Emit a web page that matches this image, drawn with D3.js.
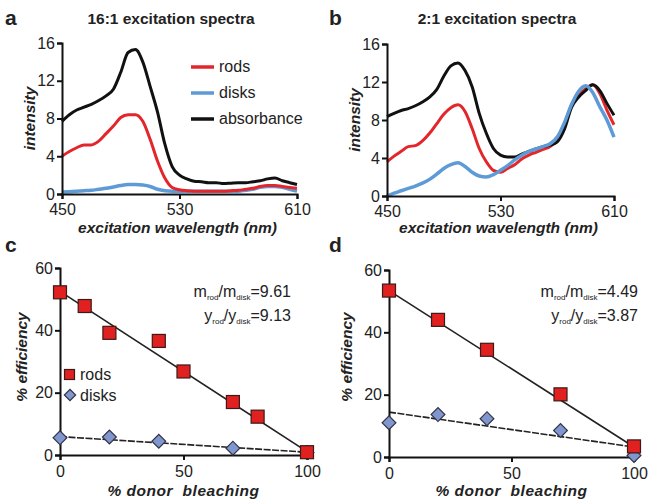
<!DOCTYPE html>
<html>
<head>
<meta charset="utf-8">
<script src="https://cdn.jsdelivr.net/npm/d3@7"></script>
<style>
  body { margin: 0; background: #fff; }
  svg { font-family: "Liberation Sans", Arial, sans-serif; }
  .tick text { font-size: 16px; fill: #222; }
  .ttl { font-weight: bold; font-style: italic; font-size: 15.5px; fill: #222; }
</style>
</head>
<body>
<div id="chart"></div>
<script>
// wavelengths (nm) shared by all spectra
var wavelengths = [450,455,460,465,470,475,480,485,490,495,500,505,510,515,520,525,530,
                   535,540,545,550,555,560,565,570,575,580,585,590,595,600,605,610];

// panel a: 16:1 excitation spectra
var rodsA = [4.0,4.5,4.9,5.2,5.2,5.6,6.4,7.2,8.1,8.4,8.4,7.7,5.8,3.5,1.7,0.7,0.45,
             0.35,0.3,0.3,0.3,0.3,0.3,0.35,0.4,0.5,0.6,0.8,0.9,0.9,0.8,0.7,0.6];
var disksA = [0.2,0.25,0.3,0.35,0.4,0.5,0.6,0.75,0.9,1.0,1.0,0.95,0.8,0.5,0.35,0.3,0.3,
              0.3,0.3,0.3,0.3,0.3,0.3,0.3,0.3,0.4,0.5,0.7,0.8,0.8,0.7,0.5,0.3];
var absA = [7.7,8.4,8.9,9.2,9.5,9.9,10.4,11.1,12.9,15.0,15.3,14.0,11.4,8.7,5.3,2.9,2.0,
            1.6,1.35,1.3,1.2,1.2,1.1,1.15,1.2,1.2,1.3,1.4,1.6,1.7,1.4,1.2,1.0];

// panel b: 2:1 excitation spectra
var rodsB = [3.6,4.2,4.7,5.2,5.3,5.8,6.6,7.6,8.6,9.3,9.6,8.9,7.1,5.0,3.6,2.7,2.5,
             2.9,3.3,3.9,4.3,4.6,4.9,5.2,5.9,7.4,9.6,10.6,11.3,11.7,10.8,9.05,7.5];
var disksB = [0.0,0.3,0.55,0.8,1.05,1.35,1.75,2.3,2.9,3.3,3.5,3.1,2.5,2.1,2.0,2.25,2.7,
              3.2,3.8,4.3,4.7,4.95,5.2,5.5,6.2,7.7,9.6,11.0,11.6,10.9,9.4,8.0,6.2];
var absB = [8.35,8.7,9.0,9.2,9.5,9.9,10.4,11.2,12.6,13.7,14.0,13.2,11.5,8.7,6.6,5.0,4.3,
            4.1,4.1,4.4,4.7,4.95,5.2,5.35,5.7,7.0,9.3,10.4,11.1,11.7,11.1,9.75,8.5];

var spectraXTicks = [450, 530, 610];
var spectraYTicks = [0, 4, 8, 12, 16];

// panel c: efficiency vs % donor bleaching (16:1)
var bleachRodsC = [0, 10, 20, 40, 50, 70, 80, 100];
var effRodsC = [52.2, 47.8, 39.2, 36.6, 26.8, 17.0, 12.3, 0.9];
var bleachDisksC = [0, 20, 40, 70, 100];
var effDisksC = [5.5, 5.8, 4.4, 2.2, 0.8];
var fitX = [0, 100];
var fitRodsC = [52.5, 1.1];
var fitDisksC = [5.9, 0.9];

// panel d: efficiency vs % donor bleaching (2:1)
var bleachRodsD = [0, 20, 40, 70, 100];
var effRodsD = [53.4, 44.0, 34.4, 20.1, 3.4];
var bleachDisksD = [0, 20, 40, 70, 100];
var effDisksD = [11.0, 13.6, 12.3, 8.5, 0.5];
var fitRodsD = [53.4, 3.2];
var fitDisksD = [14.4, 3.2];

var bleachTicks = [0, 50, 100];
var effTicks = [0, 20, 40, 60];

var RED = '#e3262b', BLUE = '#5e9bd6', BLACK = '#111';

var svg = d3.select('#chart').append('svg')
    .attr('width', 648).attr('height', 499);

function zip(xs, ys) {
    return xs.map(function(x, i) { return [x, ys[i]]; });
}

function drawAxes(g, x, y, xt, yt, xpad) {
    var ya = g.append('g')
        .attr('transform', 'translate(' + x.range()[0] + ',0)')
        .call(d3.axisLeft(y).tickValues(yt).tickSizeOuter(0).tickSize(5).tickPadding(2));
    var xa = g.append('g')
        .attr('transform', 'translate(0,' + y.range()[0] + ')')
        .call(d3.axisBottom(x).tickValues(xt).tickSizeOuter(0).tickSize(5).tickPadding(xpad));
    [ya, xa].forEach(function(a) {
        a.select('.domain').attr('stroke', BLACK).attr('stroke-width', 2);
        a.selectAll('.tick line').attr('stroke', BLACK).attr('stroke-width', 2);
    });
}

function spectraPanel(opt) {
    var g = svg.append('g');
    var x = d3.scaleLinear().domain([450, 610]).range(opt.xr);
    var y = d3.scaleLinear().domain([0, 16]).range(opt.yr);
    var line = d3.line()
        .x(function(d) { return x(d[0]); })
        .y(function(d) { return y(d[1]); })
        .curve(d3.curveMonotoneX);

    opt.series.forEach(function(s) {
        g.append('path')
            .datum(zip(wavelengths, s.values))
            .attr('fill', 'none')
            .attr('stroke', s.color)
            .attr('stroke-width', s.w)
            .attr('stroke-linejoin', 'round')
            .attr('d', line);
    });

    drawAxes(g, x, y, spectraXTicks, spectraYTicks, 5);

    g.append('text').attr('x', opt.letter[0]).attr('y', opt.letter[1])
        .style('font-size', '21px').style('font-weight', 'bold').attr('fill', '#222')
        .text(opt.label);
    g.append('text').attr('x', opt.titleX).attr('y', 24)
        .attr('text-anchor', 'middle')
        .style('font-size', '15.5px').style('font-weight', 'bold').attr('fill', '#222')
        .text(opt.title);
    g.append('text').attr('class', 'ttl')
        .attr('transform', 'translate(' + opt.ylabX + ',' + ((opt.yr[0] + opt.yr[1]) / 2) + ') rotate(-90)')
        .attr('text-anchor', 'middle').text('intensity');
    g.append('text').attr('class', 'ttl')
        .attr('x', (opt.xr[0] + opt.xr[1]) / 2 - 2).attr('y', 233)
        .attr('text-anchor', 'middle').text('excitation wavelength (nm)');
    return g;
}

var ga = spectraPanel({
    xr: [62, 297], yr: [194, 43], label: 'a', letter: [5, 25],
    title: '16:1 excitation spectra', titleX: 171, ylabX: 35,
    series: [
        {values: disksA, color: BLUE, w: 3.5},
        {values: rodsA, color: RED, w: 3},
        {values: absA, color: BLACK, w: 3}
    ]
});

// legend for panel a
var legend = [
    {name: 'rods', color: RED},
    {name: 'disks', color: BLUE},
    {name: 'absorbance', color: BLACK}
];
legend.forEach(function(l, i) {
    var yy = 67 + i * 26;
    ga.append('line').attr('x1', 191).attr('x2', 214).attr('y1', yy).attr('y2', yy)
        .attr('stroke', l.color).attr('stroke-width', 3.5);
    ga.append('text').attr('x', 219).attr('y', yy + 5)
        .style('font-size', '16px').attr('fill', '#222').text(l.name);
});

spectraPanel({
    xr: [387, 614], yr: [196, 44], label: 'b', letter: [329, 25],
    title: '2:1 excitation spectra', titleX: 497, ylabX: 360,
    series: [
        {values: rodsB, color: RED, w: 3},
        {values: absB, color: BLACK, w: 3},
        {values: disksB, color: BLUE, w: 3.5}
    ]
});

function diamond(size) {
    return d3.symbol().type(d3.symbolSquare).size(size)();
}

function effPanel(opt) {
    var g = svg.append('g');
    var x = d3.scaleLinear().domain([0, 100]).range(opt.xr);
    var y = d3.scaleLinear().domain([0, 60]).range(opt.yr);
    var line = d3.line()
        .x(function(d) { return x(d[0]); })
        .y(function(d) { return y(d[1]); });

    g.append('path').datum(zip(fitX, opt.fitR))
        .attr('fill', 'none').attr('stroke', '#222').attr('stroke-width', 1.6).attr('d', line);
    g.append('path').datum(zip(fitX, opt.fitD))
        .attr('fill', 'none').attr('stroke', '#222').attr('stroke-width', 1.6)
        .attr('stroke-dasharray', '7,1.5').attr('d', line);

    drawAxes(g, x, y, bleachTicks, effTicks, 6);

    g.selectAll('.dk').data(zip(opt.bxD, opt.effD)).enter().append('path')
        .attr('d', diamond(95))
        .attr('transform', function(d) { return 'translate(' + x(d[0]) + ',' + y(d[1]) + ') rotate(45)'; })
        .attr('fill', '#7f96cf').attr('stroke', '#334').attr('stroke-width', 1.2);
    g.selectAll('.rd').data(zip(opt.bxR, opt.effR)).enter().append('rect')
        .attr('x', function(d) { return x(d[0]) - 6.5; })
        .attr('y', function(d) { return y(d[1]) - 6.5; })
        .attr('width', 13).attr('height', 13)
        .attr('fill', '#e0211f').attr('stroke', '#3a1a1a').attr('stroke-width', 1.2);

    g.append('text').attr('x', opt.letter[0]).attr('y', opt.letter[1])
        .style('font-size', '21px').style('font-weight', 'bold').attr('fill', '#222')
        .text(opt.label);
    g.append('text').attr('class', 'ttl')
        .attr('transform', 'translate(' + opt.ylabX + ',357) rotate(-90)')
        .attr('text-anchor', 'middle').text('% efficiency');
    g.append('text').attr('class', 'ttl')
        .attr('x', (opt.xr[0] + opt.xr[1]) / 2).attr('y', 496)
        .attr('text-anchor', 'middle').style('font-size', '15.5px').style('letter-spacing', '0.5px')
        .text('% donor\u00a0 bleaching');

    // ratio annotations
    var ann = [
        {a: 'm', v: opt.mRatio, yy: 297},
        {a: 'y', v: opt.yRatio, yy: 321}
    ];
    ann.forEach(function(r) {
        var t = g.append('text').attr('x', opt.annX).attr('y', r.yy)
            .attr('text-anchor', 'end').style('font-size', '16px').attr('fill', '#222');
        t.append('tspan').text(r.a);
        t.append('tspan').attr('dy', 3).style('font-size', '8px').text('rod');
        t.append('tspan').attr('dy', -3).text('/' + r.a);
        t.append('tspan').attr('dy', 3).style('font-size', '8px').text('disk');
        t.append('tspan').attr('dy', -3).text('=' + r.v);
    });
    return g;
}

var gc = effPanel({
    xr: [60, 307], yr: [455, 268], label: 'c', letter: [5, 252], ylabX: 27,
    bxR: bleachRodsC, effR: effRodsC, bxD: bleachDisksC, effD: effDisksC,
    fitR: fitRodsC, fitD: fitDisksC, mRatio: '9.61', yRatio: '9.13', annX: 291
});

// legend for panel c
gc.append('rect').attr('x', 64.5).attr('y', 369.5).attr('width', 10).attr('height', 10)
    .attr('fill', '#e0211f').attr('stroke', '#3a1a1a').attr('stroke-width', 1.2);
gc.append('text').attr('x', 80).attr('y', 380).style('font-size', '16px').attr('fill', '#222').text('rods');
gc.append('path').attr('d', diamond(64))
    .attr('transform', 'translate(70,395) rotate(45)')
    .attr('fill', '#7f96cf').attr('stroke', '#334').attr('stroke-width', 1.2);
gc.append('text').attr('x', 80).attr('y', 401).style('font-size', '16px').attr('fill', '#222').text('disks');

effPanel({
    xr: [389, 634], yr: [457, 270], label: 'd', letter: [329, 252], ylabX: 352,
    bxR: bleachRodsD, effR: effRodsD, bxD: bleachDisksD, effD: effDisksD,
    fitR: fitRodsD, fitD: fitDisksD, mRatio: '4.49', yRatio: '3.87', annX: 638
});
</script>
</body>
</html>
